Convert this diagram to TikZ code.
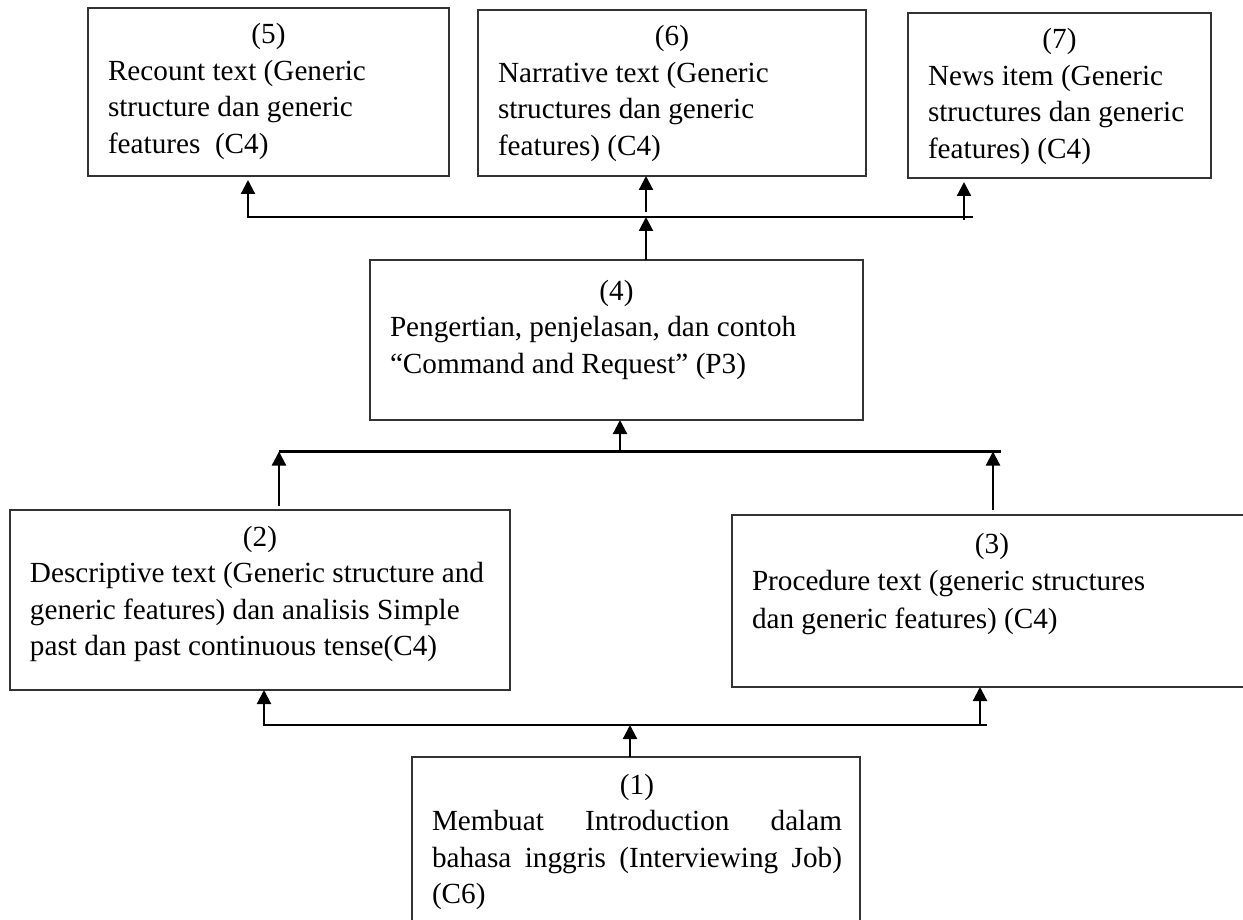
\documentclass[tikz,border=0pt]{standalone}
\usepackage{fontspec}
\setmainfont{Liberation Serif}
\usetikzlibrary{arrows.meta}
\begin{document}
\begin{tikzpicture}[x=1pt,y=-1pt,
  boxst/.style={draw=black!80, line width=1.2pt, inner sep=0pt, outer sep=0pt, anchor=north west},
  txt/.style={anchor=north west, inner sep=0pt, outer sep=0pt, align=left, font=\fontsize{29.2}{36.5}\selectfont},
  ln/.style={line width=2.2pt},
  tip/.tip={Triangle[width=14pt,length=14pt]},
  arr/.style={line width=2.2pt, -tip}]
\useasboundingbox (0,0) rectangle (1243,920);
\clip (0,0) rectangle (1243,920);
\fill[white] (0,0) rectangle (1243,920);

% boxes
\node[boxst, minimum width=361pt, minimum height=168pt] (b5) at (88,8) {};
\node[boxst, minimum width=388pt, minimum height=166pt] (b6) at (478,10) {};
\node[boxst, minimum width=303pt, minimum height=165pt] (b7) at (908,13) {};
\node[boxst, minimum width=493pt, minimum height=160pt] (b4) at (370,260) {};
\node[boxst, minimum width=500pt, minimum height=180pt] (b2) at (10,510) {};
\node[boxst, minimum width=540pt, minimum height=172pt] (b3) at (732,515) {};
\node[boxst, minimum width=448pt, minimum height=180pt] (b1) at (412,757) {};

% texts
\node[txt] (t5) at ([shift={(20,14)}]b5.north west)
  {\makebox[321pt]{\rule{0pt}{22pt}(5)}\\Recount text (Generic\\structure dan generic\\features\ \ (C4)};
\node[txt] (t6) at ([shift={(20,14)}]b6.north west)
  {\makebox[348pt]{\rule{0pt}{22pt}(6)}\\Narrative text (Generic\\structures dan generic\\features) (C4)};
\node[txt] (t7) at ([shift={(20,14)}]b7.north west)
  {\makebox[263pt]{\rule{0pt}{22pt}(7)}\\News item (Generic\\structures dan generic\\features) (C4)};
\node[txt] (t4) at ([shift={(20,18)}]b4.north west)
  {\makebox[453pt]{\rule{0pt}{22pt}(4)}\\Pengertian, penjelasan, dan contoh\\“Command and Request” (P3)};
\node[txt] (t2) at ([shift={(20,14)}]b2.north west)
  {\makebox[460pt]{\rule{0pt}{22pt}(2)}\\Descriptive text (Generic structure and\\generic features) dan analisis Simple\\past dan past continuous tense(C4)};
\node[txt, font=\fontsize{29.2}{37.5}\selectfont] (t3) at ([shift={(20,16)}]b3.north west)
  {\makebox[480pt]{\rule{0pt}{22pt}(3)}\\Procedure text (generic structures\\dan generic features) (C4)};
\node[txt] (t1) at ([shift={(20,15)}]b1.north west)
  {\makebox[410pt]{\rule{0pt}{22pt}(1)}\\\makebox[410pt][s]{Membuat Introduction dalam}\\\makebox[410pt][s]{bahasa inggris (Interviewing Job)}\\(C6)};

% junction coordinates
\coordinate (h1w) at (264,725);
\coordinate (h1e) at (987,725);
\coordinate (j1) at (630,725);
\coordinate (j3) at (980,725);
\coordinate (h2w) at (279,451.5);
\coordinate (h2e) at (1001,451.5);
\coordinate (j4) at (620,451.5);
\coordinate (j5) at (993,451.5);
\coordinate (h3w) at (248,217);
\coordinate (h3e) at (973,217);
\coordinate (j6) at (646,217);
\coordinate (j7) at (964,217);

% lower level
\draw[ln, tip-] (b2.south -| h1w) -- (h1w) -- (h1e);
\draw[arr] (j3) -- (b3.south -| j3);
\draw[arr] (b1.north -| j1) -- (j1);

% middle level
\draw[ln] (h2w) -- (h2e);
\draw[arr, shorten <=4pt] (b2.north -| h2w) -- (h2w);
\draw[arr, shorten <=5pt] (b3.north -| j5) -- (j5);
\draw[arr] (j4) -- (b4.south -| j4);

% top level
\draw[ln, tip-, shorten <=4pt] (b5.south -| h3w) -- (h3w) -- (h3e);
\draw[arr] (b4.north -| j6) -- (j6);
\draw[arr, shorten <=5pt] (j6) -- (b6.south -| j6);
\draw[arr, shorten <=-3pt, shorten >=4pt] (j7) -- (b7.south -| j7);
\end{tikzpicture}
\end{document}
